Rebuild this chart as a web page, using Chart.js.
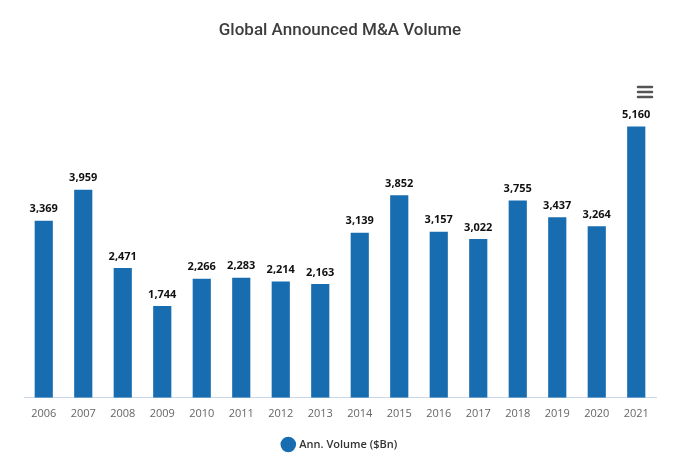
<!DOCTYPE html>
<html>
<head>
<meta charset="utf-8">
<script src="https://cdn.jsdelivr.net/npm/chart.js@4.4.0/dist/chart.umd.min.js"></script>
<style>
    html, body { margin: 0; padding: 0; background: #ffffff; }
    #wrap { width: 676px; height: 463px; position: relative; }
</style>
</head>
<body>
<div id="wrap"><canvas id="ma-volume-chart"></canvas></div>
<script>
const years = ["2006", "2007", "2008", "2009", "2010", "2011", "2012", "2013",
    "2014", "2015", "2016", "2017", "2018", "2019", "2020", "2021"];
const annVolume = [3369, 3959, 2471, 1744, 2266, 2283, 2214, 2163,
    3139, 3852, 3157, 3022, 3755, 3437, 3264, 5160];
const seriesName = "Ann. Volume ($Bn)";
const chartTitle = "Global Announced M&A Volume";

const barColor = "#186db0";

// value labels above each bar
const barLabels = {
    id: "barLabels",
    afterDatasetsDraw(chart) {
        const ctx = chart.ctx;
        const meta = chart.getDatasetMeta(0);
        ctx.save();
        ctx.font = "bold 11px 'Open Sans', sans-serif";
        ctx.fillStyle = "#111111";
        ctx.textAlign = "center";
        ctx.textBaseline = "bottom";
        meta.data.forEach((bar, i) => {
            ctx.fillText(annVolume[i].toLocaleString("en-US"), bar.x, bar.y - 6);
        });
        ctx.restore();
    },
};

// export menu icon (three lines) at top right
const menuIcon = {
    id: "menuIcon",
    afterDraw(chart) {
        const ctx = chart.ctx;
        ctx.save();
        ctx.strokeStyle = "#555555";
        ctx.lineWidth = 2.5;
        ctx.lineCap = "round";
        for (let k = 0; k < 3; k++) {
            const y = 87 + k * 5;
            ctx.beginPath();
            ctx.moveTo(638, y);
            ctx.lineTo(652, y);
            ctx.stroke();
        }
        ctx.restore();
    },
};

new Chart(document.getElementById("ma-volume-chart"), {
    type: "bar",
    data: {
        labels: years,
        datasets: [
            {
                label: seriesName,
                data: annVolume,
                backgroundColor: barColor,
                borderWidth: 0,
                categoryPercentage: 1.0,
                barPercentage: 0.46,
            },
        ],
    },
    options: {
        responsive: true,
        maintainAspectRatio: false,
        animation: false,
        layout: {
            padding: { left: 24, right: 20, top: 0, bottom: 3 },
        },
        scales: {
            x: {
                grid: { display: false, drawTicks: false },
                border: { display: true, color: "#ccd6eb", width: 1 },
                ticks: {
                    color: "#666666",
                    padding: 9,
                    maxRotation: 0,
                    font: { family: "'Open Sans', sans-serif", size: 11 },
                },
            },
            y: {
                display: false,
                min: 0,
                max: 6000,
            },
        },
        plugins: {
            title: {
                display: true,
                text: chartTitle,
                color: "#3d3d3d",
                font: { family: "Roboto, sans-serif", size: 17, weight: 500 },
                padding: { top: 21, bottom: 41 },
            },
            legend: {
                display: true,
                position: "bottom",
                labels: {
                    usePointStyle: true,
                    pointStyle: "circle",
                    boxWidth: 12,
                    boxHeight: 12,
                    color: "#333333",
                    padding: 10,
                    font: { family: "'Open Sans', sans-serif", size: 11, weight: 600 },
                },
            },
            tooltip: { enabled: false },
        },
    },
    plugins: [barLabels, menuIcon],
});
</script>
</body>
</html>
